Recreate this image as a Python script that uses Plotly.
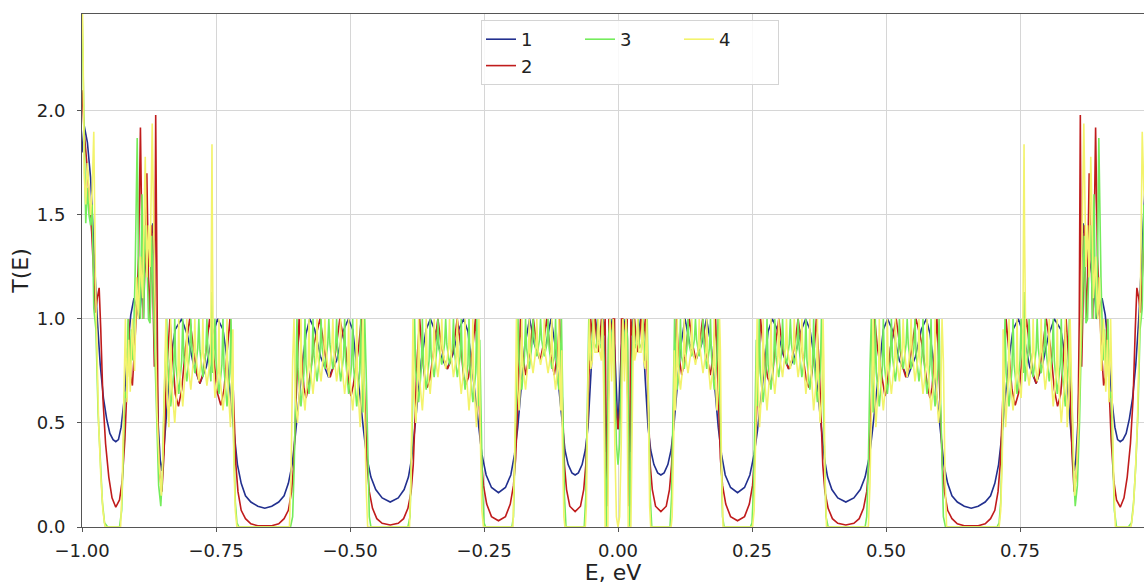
import plotly.graph_objects as go

# ---- series 1 (blue): (E, T) pairs ----
B_NEG = [(-1.000,1.80),(-0.996,1.93),(-0.990,1.85),(-0.984,1.68),(-0.978,1.35),(-0.972,1.02),(-0.966,0.78),(-0.960,0.62),(-0.954,0.52),(-0.948,0.45),(-0.942,0.42),(-0.937,0.41),(-0.932,0.42),(-0.927,0.48),(-0.921,0.62),(-0.915,0.85),(-0.909,1.02),(-0.903,1.10),(-0.898,1.05),(-0.893,1.00),(-0.888,1.15),(-0.882,1.25),(-0.876,1.32),(-0.871,1.40),(-0.868,1.46),(-0.865,1.25),(-0.862,0.85),(-0.858,0.50),(-0.854,0.32),(-0.851,0.27),(-0.847,0.38),
(-0.842,0.55),(-0.835,0.80),(-0.826,0.95),(-0.814,1.00),(-0.803,0.92),(-0.792,0.78),(-0.780,0.69),(-0.768,0.77),(-0.757,0.92),(-0.747,1.00),(-0.737,0.95),(-0.729,0.80),(-0.722,0.60),(-0.716,0.44),(-0.710,0.30),(-0.703,0.21),(-0.695,0.15),(-0.685,0.12),(-0.672,0.10),(-0.659,0.09),(-0.646,0.10),(-0.633,0.12),(-0.623,0.15),(-0.615,0.21),(-0.608,0.30),(-0.602,0.44),
(-0.596,0.60),(-0.588,0.80),(-0.582,0.93),(-0.575,1.00),(-0.566,0.95),(-0.555,0.82),(-0.540,0.72),(-0.525,0.80),(-0.513,0.94),(-0.503,1.00),(-0.495,0.95),(-0.488,0.80),(-0.481,0.62),(-0.475,0.47),(-0.469,0.34),(-0.461,0.24),(-0.452,0.18),(-0.440,0.14),(-0.425,0.12),(-0.410,0.14),(-0.399,0.18),(-0.391,0.24),(-0.385,0.33),(-0.380,0.45),
(-0.374,0.62),(-0.367,0.80),(-0.358,0.95),(-0.350,1.00),(-0.341,0.94),(-0.330,0.82),(-0.319,0.76),(-0.308,0.83),(-0.297,0.95),(-0.288,1.00),(-0.280,0.94),(-0.273,0.78),(-0.266,0.60),(-0.260,0.46),(-0.254,0.35),(-0.246,0.25),(-0.236,0.19),(-0.223,0.165),(-0.210,0.19),(-0.200,0.25),(-0.193,0.35),(-0.187,0.48),
(-0.181,0.66),(-0.174,0.87),(-0.165,1.00),(-0.156,0.88),(-0.145,0.80),(-0.134,0.88),(-0.125,1.00),(-0.117,0.87),(-0.110,0.66),(-0.104,0.48),(-0.099,0.37),(-0.093,0.30),(-0.086,0.26),(-0.080,0.25),(-0.074,0.26),(-0.067,0.30),(-0.061,0.37),(-0.056,0.48),
(-0.051,0.70),(-0.046,0.95),(-0.042,1.00),(-0.037,0.89),(-0.032,0.95),(-0.028,1.00),(-0.025,0.80),(-0.022,0.36),(-0.019,0.55),(-0.015,0.90),(-0.011,1.00),(-0.006,0.85),(0.000,0.47)]
B_POS = [(0.006,0.85),(0.011,1.00),(0.015,0.90),(0.019,0.55),(0.022,0.36),(0.025,0.80),(0.028,1.00),(0.032,0.95),(0.037,0.89),(0.042,1.00),(0.046,0.95),(0.051,0.70),
(0.056,0.48),(0.061,0.37),(0.067,0.30),(0.074,0.26),(0.080,0.25),(0.086,0.26),(0.093,0.30),(0.099,0.37),(0.104,0.48),(0.110,0.66),(0.117,0.87),(0.125,1.00),(0.134,0.88),(0.145,0.80),(0.156,0.88),(0.165,1.00),(0.174,0.87),(0.181,0.66),
(0.187,0.48),(0.193,0.35),(0.200,0.25),(0.210,0.19),(0.223,0.165),(0.236,0.19),(0.246,0.25),(0.254,0.35),(0.260,0.46),(0.266,0.60),(0.273,0.78),(0.280,0.94),(0.288,1.00),(0.297,0.95),(0.308,0.83),(0.319,0.76),(0.330,0.82),(0.341,0.94),(0.350,1.00),(0.358,0.95),(0.367,0.80),(0.374,0.62),
(0.380,0.45),(0.385,0.33),(0.391,0.24),(0.399,0.18),(0.410,0.14),(0.425,0.12),(0.440,0.14),(0.452,0.18),(0.461,0.24),(0.469,0.34),(0.475,0.47),(0.481,0.62),(0.488,0.80),(0.495,0.95),(0.503,1.00),(0.513,0.94),(0.525,0.80),(0.540,0.72),(0.555,0.82),(0.566,0.95),(0.575,1.00),(0.582,0.93),(0.588,0.80),(0.596,0.60),
(0.602,0.44),(0.608,0.30),(0.615,0.21),(0.623,0.15),(0.633,0.12),(0.646,0.10),(0.659,0.09),(0.672,0.10),(0.685,0.12),(0.695,0.15),(0.703,0.21),(0.710,0.30),(0.716,0.44),(0.722,0.60),(0.729,0.80),(0.737,0.95),(0.747,1.00),(0.757,0.92),(0.768,0.77),(0.780,0.69),(0.792,0.78),(0.803,0.92),(0.814,1.00),(0.826,0.95),(0.835,0.80),(0.842,0.55),
(0.847,0.38),(0.851,0.27),(0.854,0.32),(0.858,0.50),(0.862,0.85),(0.865,1.25),(0.868,1.46),(0.871,1.40),(0.876,1.32),(0.882,1.25),(0.888,1.15),(0.893,1.00),(0.898,1.05),(0.903,1.10),(0.909,1.02),(0.915,0.85),(0.921,0.62),(0.927,0.48),(0.932,0.42),(0.937,0.41),(0.942,0.42),(0.948,0.45),(0.954,0.52),(0.960,0.62),(0.966,0.78),(0.972,1.02),(0.978,1.35),(0.984,1.68),(0.990,1.85)]

# ---- series 2 (red) ----
R_NEG = [(-1.000,2.10),(-0.996,1.90),(-0.991,1.75),(-0.986,1.55),(-0.982,1.42),(-0.978,1.20),(-0.975,1.03),(-0.9715,1.10),(-0.968,1.15),(-0.965,0.95),(-0.961,0.62),(-0.956,0.40),(-0.950,0.24),(-0.944,0.14),(-0.937,0.095),(-0.930,0.13),(-0.925,0.22),(-0.920,0.42),(-0.916,0.68),(-0.913,1.00),(-0.909,0.72),(-0.906,0.68),(-0.902,0.85),(-0.899,1.00),
(-0.8945,1.30),(-0.891,1.92),(-0.888,1.35),(-0.8855,1.00),(-0.882,1.30),(-0.879,1.70),(-0.876,1.20),(-0.873,1.00),(-0.870,1.45),(-0.867,1.00),(-0.865,0.77),(-0.8625,1.98),(-0.8605,1.00),(-0.858,0.45),(-0.855,0.25),(-0.851,0.17),(-0.847,0.35),(-0.843,0.70),
(-0.836,1.00),(-0.832,0.85),(-0.826,0.64),(-0.820,0.58),(-0.814,0.66),(-0.807,0.86),(-0.799,1.00),(-0.792,0.86),(-0.786,0.74),(-0.780,0.69),(-0.774,0.74),(-0.768,0.86),(-0.762,1.00),(-0.755,0.84),(-0.748,0.65),(-0.741,0.585),(-0.735,0.66),(-0.729,0.85),(-0.724,1.00),(-0.720,0.82),(-0.716,0.50),(-0.713,0.30),(-0.709,0.17),(-0.703,0.08),(-0.695,0.04),(-0.685,0.015),(-0.672,0.006),(-0.659,0.005),(-0.646,0.006),(-0.633,0.015),(-0.623,0.04),(-0.615,0.08),(-0.609,0.17),(-0.605,0.30),(-0.602,0.50),
(-0.598,0.82),(-0.595,1.00),(-0.590,0.82),(-0.586,0.67),(-0.582,0.62),(-0.577,0.68),(-0.567,0.88),(-0.556,1.00),(-0.549,0.88),(-0.543,0.77),(-0.537,0.72),(-0.531,0.77),(-0.525,0.88),(-0.519,1.00),(-0.508,0.86),(-0.502,0.67),(-0.498,0.63),(-0.494,0.68),(-0.484,0.86),(-0.479,1.00),(-0.475,0.80),(-0.471,0.50),(-0.468,0.30),(-0.464,0.17),(-0.458,0.09),(-0.450,0.04),(-0.440,0.018),(-0.425,0.010),(-0.410,0.018),(-0.400,0.04),(-0.392,0.09),(-0.386,0.17),(-0.382,0.30),(-0.379,0.50),
(-0.375,0.80),(-0.370,1.00),(-0.365,0.82),(-0.360,0.70),(-0.356,0.67),(-0.351,0.71),(-0.343,0.86),(-0.336,1.00),(-0.330,0.88),(-0.324,0.80),(-0.318,0.76),(-0.312,0.80),(-0.306,0.88),(-0.300,1.00),(-0.293,0.86),(-0.288,0.72),(-0.284,0.685),(-0.279,0.72),(-0.271,0.86),(-0.266,1.00),(-0.262,0.80),(-0.258,0.52),(-0.255,0.33),(-0.251,0.20),(-0.245,0.11),(-0.236,0.05),(-0.223,0.03),(-0.210,0.05),(-0.201,0.11),(-0.195,0.20),(-0.191,0.33),(-0.188,0.52),
(-0.185,0.80),(-0.182,1.00),(-0.178,0.83),(-0.172,0.73),(-0.166,0.82),(-0.158,1.00),(-0.152,0.88),(-0.1455,0.80),(-0.139,0.88),(-0.133,1.00),(-0.125,0.82),(-0.119,0.73),(-0.113,0.83),(-0.109,1.00),(-0.106,0.78),(-0.103,0.50),(-0.100,0.30),(-0.096,0.18),(-0.090,0.10),(-0.080,0.074),(-0.070,0.10),(-0.064,0.18),(-0.060,0.30),(-0.057,0.50),
(-0.054,0.80),(-0.051,1.00),(-0.047,0.90),(-0.043,1.00),(-0.039,0.88),(-0.037,0.84),(-0.034,0.90),(-0.031,1.00),(-0.027,0.92),(-0.024,1.00),(-0.022,0.40),(-0.0205,0.10),(-0.019,0.40),(-0.017,1.00),(-0.013,0.95),(-0.009,1.00),(-0.0065,1.00),(-0.005,0.60),(0.000,0.47)]
R_POS = [(0.005,0.60),(0.0065,1.00),(0.009,1.00),(0.013,0.95),(0.017,1.00),(0.019,0.40),(0.0205,0.10),(0.022,0.40),(0.024,1.00),(0.027,0.92),(0.031,1.00),(0.034,0.90),(0.037,0.84),(0.039,0.88),(0.043,1.00),(0.047,0.90),(0.051,1.00),(0.054,0.80),
(0.057,0.50),(0.060,0.30),(0.064,0.18),(0.070,0.10),(0.080,0.074),(0.090,0.10),(0.096,0.18),(0.100,0.30),(0.103,0.50),(0.106,0.78),(0.109,1.00),(0.113,0.83),(0.119,0.73),(0.125,0.82),(0.133,1.00),(0.139,0.88),(0.1455,0.80),(0.152,0.88),(0.158,1.00),(0.166,0.82),(0.172,0.73),(0.178,0.83),(0.182,1.00),(0.185,0.80),
(0.188,0.52),(0.191,0.33),(0.195,0.20),(0.201,0.11),(0.210,0.05),(0.223,0.03),(0.236,0.05),(0.245,0.11),(0.251,0.20),(0.255,0.33),(0.258,0.52),(0.262,0.80),(0.266,1.00),(0.271,0.86),(0.279,0.72),(0.284,0.685),(0.288,0.72),(0.293,0.86),(0.300,1.00),(0.306,0.88),(0.312,0.80),(0.318,0.76),(0.324,0.80),(0.330,0.88),(0.336,1.00),(0.343,0.86),(0.351,0.71),(0.356,0.67),(0.360,0.70),(0.365,0.82),(0.370,1.00),(0.375,0.80),
(0.379,0.50),(0.382,0.30),(0.386,0.17),(0.392,0.09),(0.400,0.04),(0.410,0.018),(0.425,0.010),(0.440,0.018),(0.450,0.04),(0.458,0.09),(0.464,0.17),(0.468,0.30),(0.471,0.50),(0.475,0.80),(0.479,1.00),(0.484,0.86),(0.494,0.68),(0.498,0.63),(0.502,0.67),(0.508,0.86),(0.519,1.00),(0.525,0.88),(0.531,0.77),(0.537,0.72),(0.543,0.77),(0.549,0.88),(0.556,1.00),(0.567,0.88),(0.577,0.68),(0.582,0.62),(0.586,0.67),(0.590,0.82),(0.595,1.00),(0.598,0.82),
(0.602,0.50),(0.605,0.30),(0.609,0.17),(0.615,0.08),(0.623,0.04),(0.633,0.015),(0.646,0.006),(0.659,0.005),(0.672,0.006),(0.685,0.015),(0.695,0.04),(0.703,0.08),(0.709,0.17),(0.713,0.30),(0.716,0.50),(0.720,0.82),(0.724,1.00),(0.729,0.85),(0.735,0.66),(0.741,0.585),(0.748,0.65),(0.755,0.84),(0.762,1.00),(0.768,0.86),(0.774,0.74),(0.780,0.69),(0.786,0.74),(0.792,0.86),(0.799,1.00),(0.807,0.86),(0.814,0.66),(0.820,0.58),(0.826,0.64),(0.832,0.85),(0.836,1.00),
(0.843,0.70),(0.847,0.35),(0.851,0.17),(0.855,0.25),(0.858,0.45),(0.8605,1.00),(0.8625,1.98),(0.865,0.77),(0.867,1.00),(0.870,1.45),(0.873,1.00),(0.876,1.20),(0.879,1.70),(0.882,1.30),(0.8855,1.00),(0.888,1.35),(0.891,1.92),(0.8945,1.30),
(0.899,1.00),(0.902,0.85),(0.906,0.68),(0.909,0.72),(0.913,1.00),(0.916,0.68),(0.920,0.42),(0.925,0.22),(0.930,0.13),(0.937,0.095),(0.944,0.14),(0.950,0.24),(0.956,0.40),(0.961,0.62),(0.965,0.95),(0.968,1.15),(0.9715,1.10),(0.975,1.03),(0.978,1.20),(0.982,1.42),(0.986,1.55),(0.991,1.75)]

# ---- series 3 (green) ----
G_NEG = [(-1.000,2.50),(-0.997,1.95),(-0.995,1.60),(-0.993,1.46),(-0.990,1.63),(-0.987,1.50),(-0.984,1.45),(-0.981,1.55),(-0.978,1.05),(-0.974,0.95),(-0.970,0.55),(-0.966,0.30),(-0.962,0.12),(-0.958,0.02),(-0.952,0.00),(-0.930,0.00),(-0.926,0.08),(-0.923,0.35),(-0.920,0.65),(-0.917,0.62),(-0.914,1.00),(-0.911,0.72),(-0.908,0.95),(-0.905,0.80),(-0.901,1.20),(-0.897,1.87),(-0.894,1.10),(-0.891,1.00),(-0.888,1.60),(-0.885,1.00),(-0.882,1.45),(-0.879,1.30),(-0.876,1.00),(-0.873,0.98),(-0.870,1.40),(-0.867,1.10),(-0.864,0.85),(-0.861,0.50),(-0.857,0.20),(-0.853,0.10),(-0.850,0.25),(-0.847,0.60),
(-0.844,0.80),(-0.842,1.00),(-0.840,0.78),(-0.8345,0.58),(-0.829,0.74),(-0.827,1.00),(-0.825,0.78),(-0.8195,0.64),(-0.814,0.80),(-0.812,1.00),(-0.810,0.82),(-0.8045,0.70),(-0.799,0.84),(-0.797,1.00),(-0.795,0.86),(-0.7895,0.74),(-0.784,0.86),(-0.782,1.00),(-0.780,0.85),(-0.7745,0.72),(-0.769,0.84),(-0.767,1.00),(-0.765,0.84),(-0.7595,0.70),(-0.7575,1.13),(-0.756,0.74),(-0.754,0.82),(-0.752,1.00),(-0.750,0.80),(-0.7445,0.64),(-0.739,0.78),(-0.737,1.00),(-0.735,0.76),(-0.7295,0.58),(-0.724,0.74),(-0.722,1.00),(-0.720,0.70),(-0.717,0.40),(-0.714,0.12),(-0.711,0.02),(-0.707,0.00),
(-0.611,0.00),(-0.607,0.05),(-0.604,0.30),(-0.601,0.70),(-0.599,1.00),(-0.597,0.76),(-0.5915,0.58),(-0.586,0.74),(-0.584,1.00),(-0.582,0.78),(-0.5765,0.64),(-0.571,0.80),(-0.569,1.00),(-0.567,0.82),(-0.5615,0.70),(-0.556,0.84),(-0.554,1.00),(-0.552,0.86),(-0.5468,0.76),(-0.5415,0.88),(-0.5395,1.00),(-0.5375,0.88),(-0.532,0.76),(-0.527,0.86),(-0.525,1.00),(-0.523,0.84),(-0.5175,0.70),(-0.512,0.82),(-0.510,1.00),(-0.508,0.80),(-0.5025,0.64),(-0.497,0.78),(-0.495,1.00),(-0.493,0.76),(-0.4875,0.58),(-0.482,0.74),(-0.480,1.00),(-0.478,0.70),(-0.476,0.55),(-0.4735,0.80),(-0.4725,1.00),(-0.470,0.76),(-0.467,0.30),(-0.464,0.05),(-0.461,0.00),
(-0.392,0.00),(-0.388,0.05),(-0.385,0.35),(-0.3815,0.75),(-0.3795,1.00),(-0.3775,0.76),(-0.372,0.60),(-0.367,0.76),(-0.365,1.00),(-0.363,0.78),(-0.3578,0.66),(-0.3525,0.80),(-0.3505,1.00),(-0.3485,0.82),(-0.343,0.72),(-0.338,0.86),(-0.336,1.00),(-0.334,0.86),(-0.3288,0.78),(-0.3235,0.88),(-0.3215,1.00),(-0.3195,0.88),(-0.3143,0.78),(-0.309,0.86),(-0.307,1.00),(-0.305,0.84),(-0.2998,0.72),(-0.2945,0.82),(-0.2925,1.00),(-0.2905,0.80),(-0.2853,0.66),(-0.280,0.78),(-0.278,1.00),(-0.276,0.76),(-0.2708,0.60),(-0.2655,0.74),(-0.2635,1.00),(-0.2615,0.70),(-0.2595,0.58),(-0.258,0.90),(-0.256,0.60),(-0.253,0.20),(-0.250,0.02),(-0.247,0.00),
(-0.198,0.00),(-0.195,0.05),(-0.192,0.40),(-0.1885,0.80),(-0.1865,1.00),(-0.1845,0.80),(-0.1795,0.66),(-0.1745,0.82),(-0.1725,1.00),(-0.1705,0.86),(-0.1655,0.76),(-0.1605,0.88),(-0.1585,1.00),(-0.1565,0.90),(-0.1515,0.82),(-0.1465,0.90),(-0.1445,1.00),(-0.1425,0.90),(-0.1375,0.82),(-0.1325,0.88),(-0.1305,1.00),(-0.1285,0.86),(-0.1235,0.76),(-0.1185,0.82),(-0.1165,1.00),(-0.1145,0.80),(-0.1105,0.66),(-0.1075,0.80),(-0.1055,1.00),(-0.103,0.60),(-0.100,0.15),(-0.097,0.00),
(-0.063,0.00),(-0.060,0.15),(-0.057,0.60),(-0.0545,1.00),(-0.052,0.80),(-0.049,0.86),(-0.0465,1.00),(-0.044,0.88),(-0.040,0.86),(-0.0375,1.00),(-0.035,0.88),(-0.032,0.86),(-0.029,1.00),(-0.026,0.80),(-0.024,0.30),(-0.022,0.00),(-0.020,0.30),(-0.018,0.90),(-0.015,1.00),(-0.012,0.85),(-0.009,1.00),(-0.006,0.75),(-0.003,0.40),(0.000,0.30)]
G_POS = [(0.003,0.40),(0.006,0.75),(0.009,1.00),(0.012,0.85),(0.015,1.00),(0.018,0.90),(0.020,0.30),(0.022,0.00),(0.024,0.30),(0.026,0.80),(0.029,1.00),(0.032,0.86),(0.035,0.88),(0.0375,1.00),(0.040,0.86),(0.044,0.88),(0.0465,1.00),(0.049,0.86),(0.052,0.80),(0.0545,1.00),(0.057,0.60),(0.060,0.15),(0.063,0.00),
(0.097,0.00),(0.100,0.15),(0.103,0.60),(0.1055,1.00),(0.1075,0.80),(0.1105,0.66),(0.1145,0.80),(0.1165,1.00),(0.1185,0.82),(0.1235,0.76),(0.1285,0.86),(0.1305,1.00),(0.1325,0.88),(0.1375,0.82),(0.1425,0.90),(0.1445,1.00),(0.1465,0.90),(0.1515,0.82),(0.1565,0.90),(0.1585,1.00),(0.1605,0.88),(0.1655,0.76),(0.1705,0.86),(0.1725,1.00),(0.1745,0.82),(0.1795,0.66),(0.1845,0.80),(0.1865,1.00),(0.1885,0.80),(0.192,0.40),(0.195,0.05),(0.198,0.00),
(0.247,0.00),(0.250,0.02),(0.253,0.20),(0.256,0.60),(0.258,0.90),(0.2595,0.58),(0.2615,0.70),(0.2635,1.00),(0.2655,0.74),(0.2708,0.60),(0.276,0.76),(0.278,1.00),(0.280,0.78),(0.2853,0.66),(0.2905,0.80),(0.2925,1.00),(0.2945,0.82),(0.2998,0.72),(0.305,0.84),(0.307,1.00),(0.309,0.86),(0.3143,0.78),(0.3195,0.88),(0.3215,1.00),(0.3235,0.88),(0.3288,0.78),(0.334,0.86),(0.336,1.00),(0.338,0.86),(0.343,0.72),(0.3485,0.82),(0.3505,1.00),(0.3525,0.80),(0.3578,0.66),(0.363,0.78),(0.365,1.00),(0.367,0.76),(0.372,0.60),(0.3775,0.76),(0.3795,1.00),(0.3815,0.75),(0.385,0.35),(0.388,0.05),(0.392,0.00),
(0.461,0.00),(0.464,0.05),(0.467,0.30),(0.470,0.76),(0.4725,1.00),(0.4735,0.80),(0.476,0.55),(0.478,0.70),(0.480,1.00),(0.482,0.74),(0.4875,0.58),(0.493,0.76),(0.495,1.00),(0.497,0.78),(0.5025,0.64),(0.508,0.80),(0.510,1.00),(0.512,0.82),(0.5175,0.70),(0.523,0.84),(0.525,1.00),(0.527,0.86),(0.532,0.76),(0.5375,0.88),(0.5395,1.00),(0.5415,0.88),(0.5468,0.76),(0.552,0.86),(0.554,1.00),(0.556,0.84),(0.5615,0.70),(0.567,0.82),(0.569,1.00),(0.571,0.80),(0.5765,0.64),(0.582,0.78),(0.584,1.00),(0.586,0.74),(0.5915,0.58),(0.597,0.76),(0.599,1.00),(0.601,0.70),(0.604,0.30),(0.607,0.05),(0.611,0.00),
(0.707,0.00),(0.711,0.02),(0.714,0.12),(0.717,0.40),(0.720,0.70),(0.722,1.00),(0.724,0.74),(0.7295,0.58),(0.735,0.76),(0.737,1.00),(0.739,0.78),(0.7445,0.64),(0.750,0.80),(0.752,1.00),(0.754,0.82),(0.756,0.74),(0.7575,1.13),(0.7595,0.70),(0.765,0.84),(0.767,1.00),(0.769,0.84),(0.7745,0.72),(0.780,0.85),(0.782,1.00),(0.784,0.86),(0.7895,0.74),(0.795,0.86),(0.797,1.00),(0.799,0.84),(0.8045,0.70),(0.810,0.82),(0.812,1.00),(0.814,0.80),(0.8195,0.64),(0.825,0.78),(0.827,1.00),(0.829,0.74),(0.8345,0.58),(0.840,0.78),(0.842,1.00),(0.844,0.80),
(0.847,0.60),(0.850,0.25),(0.853,0.10),(0.857,0.20),(0.861,0.50),(0.864,0.85),(0.867,1.10),(0.870,1.40),(0.873,0.98),(0.876,1.00),(0.879,1.30),(0.882,1.45),(0.885,1.00),(0.888,1.60),(0.891,1.00),(0.894,1.10),(0.897,1.87),(0.901,1.20),(0.905,0.80),(0.908,0.95),(0.911,0.72),(0.914,1.00),(0.917,0.62),(0.920,0.65),(0.923,0.35),(0.926,0.08),(0.930,0.00),(0.952,0.00),(0.958,0.02),(0.962,0.12),(0.966,0.30),(0.970,0.55),(0.974,0.95),(0.978,1.05),(0.981,1.55),(0.984,1.45),(0.987,1.50),(0.990,1.63)]

# ---- series 4 (yellow) ----
Y_NEG = [(-1.000,2.60),(-0.998,2.30),(-0.996,1.70),(-0.993,1.55),(-0.990,1.75),(-0.987,1.60),(-0.984,1.50),(-0.981,1.62),(-0.978,1.90),(-0.975,1.20),(-0.972,0.80),(-0.969,0.50),(-0.965,0.25),(-0.961,0.08),(-0.957,0.00),(-0.928,0.00),(-0.925,0.20),(-0.922,0.55),(-0.919,1.00),(-0.916,0.60),(-0.913,0.90),(-0.910,0.65),(-0.906,1.00),(-0.902,0.75),(-0.898,1.20),(-0.895,1.00),(-0.891,1.30),(-0.887,1.10),(-0.884,1.55),(-0.882,1.78),(-0.879,1.20),(-0.876,1.45),(-0.873,1.25),(-0.869,1.94),(-0.866,1.40),(-0.863,0.90),(-0.860,0.55),(-0.856,0.30),(-0.852,0.15),(-0.849,0.35),(-0.846,0.70),
(-0.8435,1.00),(-0.841,0.62),(-0.838,0.48),(-0.836,0.70),(-0.8345,1.00),(-0.833,0.70),(-0.827,0.50),(-0.821,0.74),(-0.8195,1.00),(-0.818,0.76),(-0.812,0.58),(-0.806,0.80),(-0.8045,1.00),(-0.803,0.80),(-0.797,0.66),(-0.791,0.84),(-0.7895,1.00),(-0.788,0.84),(-0.782,0.70),(-0.776,0.84),(-0.7745,1.00),(-0.773,0.82),(-0.767,0.68),(-0.761,0.80),(-0.7595,1.00),(-0.7585,1.40),(-0.7575,1.84),(-0.7565,1.30),(-0.755,0.80),(-0.752,0.62),(-0.746,0.74),(-0.7445,1.00),(-0.743,0.74),(-0.737,0.56),(-0.731,0.72),(-0.7295,1.00),(-0.728,0.70),(-0.723,0.48),(-0.720,0.80),(-0.7185,0.95),(-0.717,0.35),(-0.714,0.08),(-0.711,0.00),
(-0.613,0.00),(-0.610,0.25),(-0.607,0.80),(-0.6045,1.00),(-0.602,0.62),(-0.598,0.50),(-0.593,0.72),(-0.5915,1.00),(-0.590,0.72),(-0.584,0.56),(-0.578,0.78),(-0.5765,1.00),(-0.575,0.78),(-0.569,0.64),(-0.563,0.82),(-0.5615,1.00),(-0.560,0.82),(-0.554,0.70),(-0.5485,0.86),(-0.5468,1.00),(-0.545,0.86),(-0.5395,0.72),(-0.534,0.86),(-0.532,1.00),(-0.530,0.84),(-0.525,0.70),(-0.519,0.82),(-0.5175,1.00),(-0.516,0.80),(-0.510,0.64),(-0.504,0.78),(-0.5025,1.00),(-0.501,0.74),(-0.495,0.56),(-0.489,0.74),(-0.4875,1.00),(-0.486,0.70),(-0.481,0.48),(-0.4775,0.75),(-0.476,1.00),(-0.4735,0.60),(-0.470,0.20),(-0.467,0.00),
(-0.389,0.00),(-0.386,0.25),(-0.384,0.80),(-0.3825,1.00),(-0.380,0.62),(-0.377,0.50),(-0.3735,0.72),(-0.372,1.00),(-0.3705,0.72),(-0.365,0.56),(-0.3595,0.78),(-0.3578,1.00),(-0.356,0.78),(-0.3505,0.64),(-0.345,0.82),(-0.343,1.00),(-0.341,0.82),(-0.336,0.72),(-0.3305,0.86),(-0.3288,1.00),(-0.327,0.86),(-0.3215,0.76),(-0.316,0.86),(-0.3143,1.00),(-0.3125,0.86),(-0.307,0.72),(-0.3015,0.82),(-0.2998,1.00),(-0.298,0.80),(-0.2925,0.64),(-0.287,0.78),(-0.2853,1.00),(-0.2835,0.76),(-0.278,0.56),(-0.2725,0.74),(-0.2708,1.00),(-0.269,0.70),(-0.264,0.48),(-0.261,0.75),(-0.2595,1.00),(-0.257,0.45),(-0.254,0.08),(-0.251,0.00),
(-0.196,0.00),(-0.193,0.30),(-0.191,0.85),(-0.1895,1.00),(-0.187,0.66),(-0.1845,0.56),(-0.181,0.76),(-0.1795,1.00),(-0.178,0.78),(-0.1725,0.66),(-0.167,0.82),(-0.1655,1.00),(-0.164,0.84),(-0.1585,0.74),(-0.153,0.86),(-0.1515,1.00),(-0.150,0.86),(-0.1445,0.78),(-0.139,0.86),(-0.1375,1.00),(-0.136,0.84),(-0.1305,0.74),(-0.125,0.84),(-0.1235,1.00),(-0.122,0.80),(-0.1165,0.66),(-0.112,0.78),(-0.1105,1.00),(-0.109,0.72),(-0.107,0.56),(-0.105,0.85),(-0.104,0.45),(-0.101,0.05),(-0.099,0.00),
(-0.061,0.00),(-0.059,0.10),(-0.056,0.70),(-0.0535,1.00),(-0.051,0.76),(-0.048,0.80),(-0.0455,1.00),(-0.043,0.84),(-0.039,0.84),(-0.0365,1.00),(-0.034,0.84),(-0.031,0.80),(-0.029,1.00),(-0.026,0.55),(-0.024,0.00),(-0.019,0.00),(-0.017,0.60),(-0.015,1.00),(-0.012,0.70),(-0.009,1.00),(-0.006,0.40),(-0.003,0.05),(0.000,0.00)]
Y_POS = [(0.003,0.05),(0.006,0.40),(0.009,1.00),(0.012,0.70),(0.015,1.00),(0.017,0.60),(0.019,0.00),(0.024,0.00),(0.026,0.55),(0.029,1.00),(0.031,0.80),(0.034,0.84),(0.0365,1.00),(0.039,0.84),(0.043,0.84),(0.0455,1.00),(0.048,0.80),(0.051,0.76),(0.0535,1.00),(0.056,0.70),(0.059,0.10),(0.061,0.00),
(0.099,0.00),(0.101,0.05),(0.104,0.45),(0.105,0.85),(0.107,0.56),(0.109,0.72),(0.1105,1.00),(0.112,0.78),(0.1165,0.66),(0.122,0.80),(0.1235,1.00),(0.125,0.84),(0.1305,0.74),(0.136,0.84),(0.1375,1.00),(0.139,0.86),(0.1445,0.78),(0.150,0.86),(0.1515,1.00),(0.153,0.86),(0.1585,0.74),(0.164,0.84),(0.1655,1.00),(0.167,0.82),(0.1725,0.66),(0.178,0.78),(0.1795,1.00),(0.181,0.76),(0.1845,0.56),(0.187,0.66),(0.1895,1.00),(0.191,0.85),(0.193,0.30),(0.196,0.00),
(0.251,0.00),(0.254,0.08),(0.257,0.45),(0.2595,1.00),(0.261,0.75),(0.264,0.48),(0.269,0.70),(0.2708,1.00),(0.2725,0.74),(0.278,0.56),(0.2835,0.76),(0.2853,1.00),(0.287,0.78),(0.2925,0.64),(0.298,0.80),(0.2998,1.00),(0.3015,0.82),(0.307,0.72),(0.3125,0.86),(0.3143,1.00),(0.316,0.86),(0.3215,0.76),(0.327,0.86),(0.3288,1.00),(0.3305,0.86),(0.336,0.72),(0.341,0.82),(0.343,1.00),(0.345,0.82),(0.3505,0.64),(0.356,0.78),(0.3578,1.00),(0.3595,0.78),(0.365,0.56),(0.3705,0.72),(0.372,1.00),(0.3735,0.72),(0.377,0.50),(0.380,0.62),(0.3825,1.00),(0.384,0.80),(0.386,0.25),(0.389,0.00),
(0.467,0.00),(0.470,0.20),(0.4735,0.60),(0.476,1.00),(0.4775,0.75),(0.481,0.48),(0.486,0.70),(0.4875,1.00),(0.489,0.74),(0.495,0.56),(0.501,0.74),(0.5025,1.00),(0.504,0.78),(0.510,0.64),(0.516,0.80),(0.5175,1.00),(0.519,0.82),(0.525,0.70),(0.530,0.84),(0.532,1.00),(0.534,0.86),(0.5395,0.72),(0.545,0.86),(0.5468,1.00),(0.5485,0.86),(0.554,0.70),(0.560,0.82),(0.5615,1.00),(0.563,0.82),(0.569,0.64),(0.575,0.78),(0.5765,1.00),(0.578,0.78),(0.584,0.56),(0.590,0.72),(0.5915,1.00),(0.593,0.72),(0.598,0.50),(0.602,0.62),(0.6045,1.00),(0.607,0.80),(0.610,0.25),(0.613,0.00),
(0.711,0.00),(0.714,0.08),(0.717,0.35),(0.7185,0.95),(0.720,0.80),(0.723,0.48),(0.728,0.70),(0.7295,1.00),(0.731,0.72),(0.737,0.56),(0.743,0.74),(0.7445,1.00),(0.746,0.74),(0.752,0.62),(0.755,0.80),(0.7565,1.30),(0.7575,1.84),(0.7585,1.40),(0.7595,1.00),(0.761,0.80),(0.767,0.68),(0.773,0.82),(0.7745,1.00),(0.776,0.84),(0.782,0.70),(0.788,0.84),(0.7895,1.00),(0.791,0.84),(0.797,0.66),(0.803,0.80),(0.8045,1.00),(0.806,0.80),(0.812,0.58),(0.818,0.76),(0.8195,1.00),(0.821,0.74),(0.827,0.50),(0.833,0.70),(0.8345,1.00),(0.836,0.70),(0.838,0.48),(0.841,0.62),(0.8435,1.00),(0.846,0.70),
(0.849,0.35),(0.852,0.15),(0.856,0.30),(0.860,0.55),(0.863,0.90),(0.866,1.40),(0.869,1.94),(0.873,1.25),(0.876,1.45),(0.879,1.20),(0.882,1.78),(0.884,1.55),(0.887,1.10),(0.891,1.30),(0.895,1.00),(0.898,1.20),(0.902,0.75),(0.906,1.00),(0.910,0.65),(0.913,0.90),(0.916,0.60),(0.919,1.00),(0.922,0.55),(0.925,0.20),(0.928,0.00),(0.957,0.00),(0.961,0.08),(0.965,0.25),(0.969,0.50),(0.972,0.80),(0.975,1.20),(0.978,1.90),(0.981,1.62),(0.984,1.50),(0.987,1.60),(0.990,1.75)]

NAMES = ["1", "2", "3", "4"]
COLORS = ["#22308f", "#c01c1c", "#74ec5c", "#f3f36c"]
GROUPS = ["a", "a", "b", "c"]
X_TICKS = [-1.0, -0.75, -0.5, -0.25, 0.0, 0.25, 0.5, 0.75]
Y_TICKS = [0.0, 0.5, 1.0, 1.5, 2.0]

SERIES = [(B_NEG, B_POS), (R_NEG, R_POS), (G_NEG, G_POS), (Y_NEG, Y_POS)]

fig = go.Figure()
for (neg, pos), name, color, grp in zip(SERIES, NAMES, COLORS, GROUPS):
    pts = list(neg) + list(pos)
    fig.add_trace(go.Scatter(
        x=[p[0] for p in pts], y=[p[1] for p in pts], mode="lines", name=name,
        legendgroup=grp, line=dict(color=color, width=1.6),
    ))

FONT = "DejaVu Sans, Verdana, sans-serif"
AX = "#555555"
fig.update_layout(
    width=1144, height=585,
    margin=dict(l=82, r=0, t=14, b=58),
    paper_bgcolor="white", plot_bgcolor="white",
    font=dict(family=FONT, size=18, color="#222222"),
    showlegend=True,
    legend=dict(
        orientation="h", traceorder="grouped",
        x=0.3757, y=0.9883, xanchor="left", yanchor="top",
        bgcolor="rgba(255,255,255,0.85)", bordercolor="#d4d4d4", borderwidth=1,
        font=dict(family=FONT, size=18, color="#222222"),
        tracegroupgap=0, entrywidth=54, entrywidthmode="pixels",
    ),
    xaxis=dict(
        range=[-1.0, 0.9813], tickvals=X_TICKS, tickformat=".2f",
        showgrid=True, gridcolor="#d6d6d6", gridwidth=1, zeroline=False,
        showline=True, linecolor=AX, linewidth=1, mirror=True,
        ticks="outside", ticklen=4, tickcolor=AX, ticklabelstandoff=3,
        title=dict(text="E, eV", standoff=7),
    ),
    yaxis=dict(
        range=[0.0, 2.466], tickvals=Y_TICKS, tickformat=".1f",
        showgrid=True, gridcolor="#d6d6d6", gridwidth=1, zeroline=False,
        showline=True, linecolor=AX, linewidth=1,
        ticks="outside", ticklen=4, tickcolor=AX, ticklabelstandoff=8,
        title=dict(text="T(E)", standoff=2),
    ),
)

fig.write_html("out.html")
